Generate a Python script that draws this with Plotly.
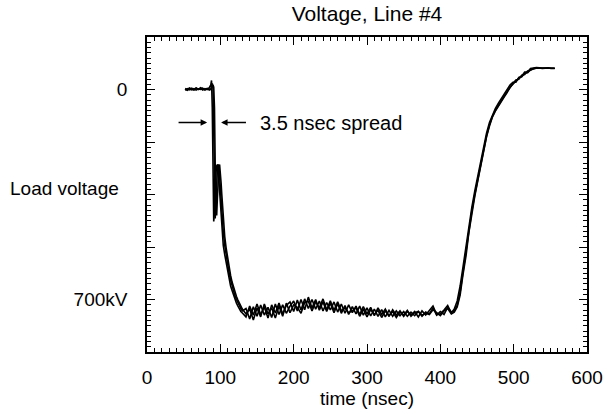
import plotly.graph_objects as go

# time axis (nsec), shared by the three overlaid shots
time_ns = [52, 55, 58, 61, 64, 67, 70, 73, 76, 79, 82, 85,
           87, 88, 89, 90, 91, 92, 93, 94, 95, 96, 97, 98, 99, 100, 101, 102,
           104, 106, 108, 110, 112, 114, 116, 118, 120, 122, 124, 126, 128, 130,
           135, 140, 145, 150, 155, 160, 165, 170, 175, 180,
           185, 190, 195, 200, 205, 210, 215, 220, 225, 230,
           235, 240, 245, 250, 255, 260, 265, 270, 275, 280,
           285, 290, 295, 300, 305, 310, 315, 320, 325, 330,
           335, 340, 345, 350, 355, 360, 365, 370, 375, 380,
           385, 390, 395, 400, 405, 410, 415,
           419, 423, 427, 431, 435, 439, 443, 447, 451, 455,
           459, 463, 467, 471, 475, 479, 483, 487, 491, 495,
           499, 503, 507, 511, 515, 519, 523, 527, 531, 535,
           539, 543, 547, 551, 556]

# load voltage (kV, negative pulse) for each shot
volt_a = [-2, 3, -1, 4, 0, 5, 1, 4, -2, 3, 0, 6,
          15, 30, -60, -300, -440, -410, -330, -280, -255, -250, -265, -300, -340, -380, -420, -450,
          -520, -550, -580, -610, -635, -655, -670, -685, -700, -712, -722, -732, -740, -745,
          -758, -722, -752, -715, -750, -725, -762, -718, -745, -712,
          -748, -720, -708, -740, -702, -735, -698, -730, -700, -732,
          -705, -738, -710, -735, -708, -742, -715, -746, -718, -744,
          -722, -750, -724, -748, -726, -754, -728, -750, -732, -756,
          -734, -752, -738, -756, -740, -752, -740, -758, -738, -752,
          -736, -722, -750, -748, -735, -720, -745,
          -732, -705, -655, -590, -525, -450, -392, -338, -288, -238,
          -188, -146, -110, -84, -64, -46, -30, -16, -2, 15,
          24, 24, 40, 44, 58, 58, 70, 72, 73, 72,
          72, 73, 72, 72, 71]

volt_b = [1, -3, 2, -1, 3, -2, 2, 0, 4, -1, 2, -2,
          2, 8, 20, 10, -120, -350, -430, -380, -300, -265, -250, -260, -290, -330, -370, -410,
          -475, -520, -555, -585, -612, -635, -655, -672, -688, -700, -712, -722, -730, -738,
          -730, -765, -724, -756, -718, -752, -726, -760, -715, -750,
          -718, -746, -722, -705, -738, -700, -734, -692, -728, -700,
          -736, -708, -740, -712, -744, -714, -746, -720, -750, -724,
          -748, -722, -752, -728, -755, -732, -756, -734, -758, -736,
          -756, -738, -754, -740, -756, -742, -754, -740, -756, -742,
          -748, -728, -752, -740, -750, -726, -742,
          -738, -720, -675, -605, -545, -465, -405, -350, -300, -250,
          -200, -155, -118, -90, -70, -52, -38, -22, -8, 10,
          20, 32, 34, 48, 50, 62, 64, 70, 71, 72,
          70, 71, 72, 70, 70]

volt_c = [3, 0, 5, 1, -2, 4, 0, 6, 1, -1, 4, 2,
          0, 4, 10, 15, 8, -60, -250, -400, -420, -360, -300, -265, -250, -270, -310, -350,
          -430, -490, -530, -565, -595, -620, -642, -660, -676, -690, -702, -714, -724, -732,
          -748, -732, -768, -728, -758, -715, -748, -728, -762, -722,
          -756, -712, -744, -718, -726, -746, -710, -706, -738, -708,
          -728, -698, -734, -704, -736, -708, -738, -728, -744, -738,
          -728, -756, -732, -758, -734, -750, -736, -760, -738, -754,
          -740, -760, -742, -752, -736, -756, -744, -740, -752, -746,
          -750, -734, -744, -754, -738, -730, -748,
          -742, -725, -685, -615, -555, -475, -412, -355, -305, -255,
          -205, -158, -122, -92, -72, -55, -40, -25, -10, 8,
          18, 28, 38, 42, 54, 56, 66, 68, 72, 71,
          70, 71, 71, 72, 71]

y_tick_vals = [-700, -525, -350, -175, 0]
y_tick_text = ["700kV", "", "", "", "0"]
x_tick_vals = [0, 100, 200, 300, 400, 500, 600]

FONT = "Liberation Sans, Arial, Helvetica, sans-serif"

fig = go.Figure()
for v in (volt_a, volt_b, volt_c):
    fig.add_trace(go.Scatter(x=time_ns, y=v, mode="lines",
                             line=dict(color="black", width=1.6),
                             showlegend=False, hoverinfo="skip"))

fig.update_layout(
    width=609, height=415,
    margin=dict(l=147, r=22, t=37, b=63, autoexpand=False),
    paper_bgcolor="white", plot_bgcolor="white",
    font=dict(family=FONT, size=19, color="black"),
    title=dict(text="Voltage, Line #4", x=0.5, xref="paper", xanchor="center",
               y=1 - 14 / 415, yref="container", yanchor="middle",
               font=dict(size=21)),
)

fig.update_xaxes(
    range=[0, 600], tickmode="array", tickvals=x_tick_vals, automargin=False,
    ticks="inside", ticklen=8, tickwidth=1.2, tickcolor="black",
    showline=True, linecolor="black", linewidth=1.5, mirror="ticks",
    showgrid=False, zeroline=False, ticklabelstandoff=7,
    minor=dict(ticks="inside", ticklen=4, tickwidth=1, tickcolor="black",
               tick0=0, dtick=10, showgrid=False),
    title=dict(text="time (nsec)", standoff=0, font=dict(size=19)),
)

fig.update_yaxes(
    range=[-875, 175], tickmode="array", tickvals=y_tick_vals, ticktext=y_tick_text,
    automargin=False,
    ticks="inside", ticklen=8, tickwidth=1.2, tickcolor="black",
    showline=True, linecolor="black", linewidth=1.5, mirror="ticks",
    showgrid=False, zeroline=False, ticklabelstandoff=14,
    minor=dict(ticks="inside", ticklen=4, tickwidth=1, tickcolor="black",
               tick0=0, dtick=17.5, showgrid=False),
)

# y-axis label written horizontally
fig.add_annotation(text="Load voltage", xref="paper", yref="paper",
                   x=(121 - 147) / 440, y=(352 - 188) / 315,
                   xanchor="right", yanchor="middle", showarrow=False,
                   font=dict(size=19))

# spread arrows and label
fig.add_annotation(x=82, y=-110, ax=41, ay=-110, xref="x", yref="y",
                   axref="x", ayref="y", text="", showarrow=True,
                   arrowhead=2, arrowsize=1, arrowwidth=1.3, arrowcolor="black")
fig.add_annotation(x=101, y=-110, ax=137, ay=-110, xref="x", yref="y",
                   axref="x", ayref="y", text="", showarrow=True,
                   arrowhead=2, arrowsize=1, arrowwidth=1.3, arrowcolor="black")
fig.add_annotation(x=152, y=-110, xref="x", yref="y", text="3.5 nsec spread",
                   xanchor="left", yanchor="middle", showarrow=False,
                   font=dict(size=20))

fig.write_html("out.html", config={"displayModeBar": False},
               post_script="document.body.style.margin='0';document.body.style.overflow='hidden';")
